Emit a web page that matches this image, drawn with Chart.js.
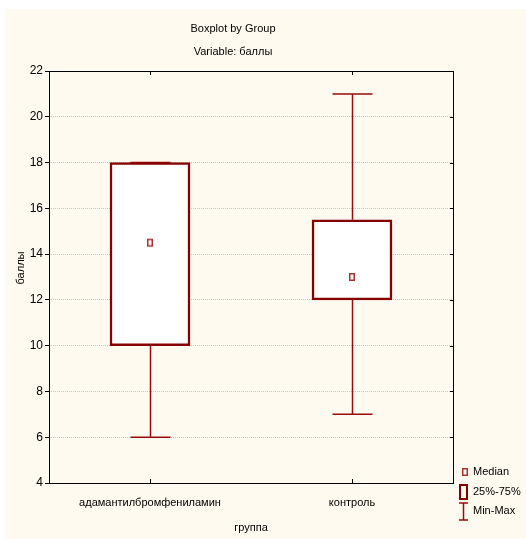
<!DOCTYPE html>
<html>
<head>
<meta charset="utf-8">
<script src="https://cdn.jsdelivr.net/npm/chart.js@4"></script>
<style>
  html, body { margin: 0; padding: 0; background: #fff; }
  canvas { display: block; }
</style>
</head>
<body>
<canvas id="boxchart" width="526" height="539"></canvas>
<script>
// data
const groups = ['адамантилбромфениламин', 'контроль'];
const mins = [6, 7];
const q1s = [10, 12];
const medians = [14.5, 13];
const q3s = [18, 15.5];
const maxs = [18, 21];
const yMin = 4, yMax = 22, yStep = 2;
const legendLabels = ['Median', '25%-75%', 'Min-Max'];

const boxRed = '#870000';
const whiskerRed = '#9a0a0a';
const medianRed = '#b03030';
const cream = '#fefaef';
const fontFamily = '"Liberation Sans", Arial, sans-serif';

Chart.defaults.font.family = fontFamily;
Chart.defaults.color = '#000';

// a small upright rectangle for the median marker
const medianMark = document.createElement('canvas');
medianMark.width = 8;
medianMark.height = 10;
(function () {
  const c = medianMark.getContext('2d');
  c.fillStyle = '#fff';
  c.fillRect(1, 1, 6, 8);
  c.strokeStyle = medianRed;
  c.lineWidth = 1.5;
  c.strokeRect(1.75, 1.75, 4.5, 6.5);
})();

// whiskers, frame, titles and legend
const boxExtras = {
  id: 'boxExtras',
  beforeDraw(chart) {
    const ctx = chart.ctx;
    ctx.save();
    ctx.fillStyle = '#fff';
    ctx.fillRect(0, 0, chart.width, chart.height);
    ctx.fillStyle = cream;
    ctx.fillRect(5, 9, chart.width - 5, chart.height - 9);
    ctx.restore();
  },
  beforeDatasetsDraw(chart) {
    const ctx = chart.ctx, x = chart.scales.x, y = chart.scales.y;
    ctx.save();
    ctx.strokeStyle = whiskerRed;
    ctx.lineWidth = 1.5;
    groups.forEach((g, i) => {
      const px = Math.round(x.getPixelForValue(i)) + 0.5;
      const yLo = y.getPixelForValue(mins[i]);
      const yQ1 = y.getPixelForValue(q1s[i]);
      const yQ3 = y.getPixelForValue(q3s[i]);
      const yHi = y.getPixelForValue(maxs[i]);
      ctx.beginPath();
      ctx.moveTo(px, yLo); ctx.lineTo(px, yQ1);
      ctx.moveTo(px, yQ3); ctx.lineTo(px, yHi);
      ctx.moveTo(px - 20, yLo); ctx.lineTo(px + 20, yLo);
      ctx.moveTo(px - 20, yHi); ctx.lineTo(px + 20, yHi);
      ctx.stroke();
    });
    ctx.restore();
  },
  afterDraw(chart) {
    const ctx = chart.ctx, a = chart.chartArea;
    const x = chart.scales.x, y = chart.scales.y;
    ctx.save();
    // plot frame
    ctx.strokeStyle = '#000';
    ctx.lineWidth = 1;
    ctx.strokeRect(a.left + 0.5, a.top + 0.5, a.right - a.left, a.bottom - a.top);
    // inner ticks: top/bottom at groups, right at y values
    ctx.beginPath();
    groups.forEach((g, i) => {
      const px = Math.round(x.getPixelForValue(i)) + 0.5;
      ctx.moveTo(px, a.top); ctx.lineTo(px, a.top + 4);
      ctx.moveTo(px, a.bottom); ctx.lineTo(px, a.bottom - 4);
    });
    y.ticks.forEach(t => {
      const py = Math.round(y.getPixelForValue(t.value)) + 0.5;
      ctx.moveTo(a.right, py); ctx.lineTo(a.right - 3, py);
    });
    ctx.stroke();

    // titles
    ctx.fillStyle = '#000';
    ctx.textAlign = 'center';
    ctx.textBaseline = 'middle';
    ctx.font = '11px ' + fontFamily;
    ctx.fillText('Boxplot by Group', 233, 29);
    ctx.fillText('Variable: баллы', 233, 52);
    ctx.fillText('группа', (a.left + a.right) / 2, 528);
    ctx.save();
    ctx.translate(21, 268);
    ctx.rotate(-Math.PI / 2);
    ctx.fillText('баллы', 0, 0);
    ctx.restore();

    // legend
    const lx = a.right + 9;
    ctx.textAlign = 'left';
    ctx.fillText(legendLabels[0], lx + 11, 472);
    ctx.fillText(legendLabels[1], lx + 11, 492);
    ctx.fillText(legendLabels[2], lx + 11, 511);
    ctx.drawImage(medianMark, lx - 1, 467);
    ctx.strokeStyle = boxRed;
    ctx.lineWidth = 2;
    ctx.strokeRect(lx - 2, 485, 7, 14);
    ctx.strokeStyle = whiskerRed;
    ctx.lineWidth = 1.5;
    ctx.beginPath();
    ctx.moveTo(lx - 3, 503); ctx.lineTo(lx + 6, 503);
    ctx.moveTo(lx + 1.5, 503); ctx.lineTo(lx + 1.5, 520);
    ctx.moveTo(lx - 3, 520); ctx.lineTo(lx + 6, 520);
    ctx.stroke();
    ctx.restore();
  }
};

const boxconfig = {
  type: 'bar',
  data: {
    labels: groups,
    datasets: [{
      type: 'line',
      label: legendLabels[0],
      data: medians,
      showLine: false,
      pointStyle: medianMark,
      order: 0
    }, {
      type: 'bar',
      label: legendLabels[1],
      data: groups.map((g, i) => [q1s[i], q3s[i]]),
      backgroundColor: '#fff',
      borderColor: boxRed,
      borderWidth: 2.5,
      borderSkipped: false,
      barThickness: 80,
      order: 1
    }]
  },
  options: {
    responsive: false,
    animation: false,
    layout: { padding: { left: 5, top: 71, right: 73, bottom: 0 } },
    plugins: {
      legend: { display: false },
      tooltip: { enabled: false },
      title: { display: false }
    },
    scales: {
      x: {
        grid: { display: false },
        border: { display: false },
        ticks: { font: { size: 11 }, color: '#000', padding: 5 },
        afterFit(s) { s.height = 56; }
      },
      y: {
        min: yMin,
        max: yMax,
        ticks: { stepSize: yStep, font: { size: 12 }, color: '#000', padding: 2 },
        grid: {
          color: c => (c.tick && (c.tick.value === yMin || c.tick.value === yMax)) ? 'rgba(0,0,0,0)' : '#c4c4c4',
          tickColor: '#000',
          tickLength: 4,
          tickBorderDash: []
        },
        border: { display: false, dash: [1, 1] },
        afterFit(s) { s.width = 44; }
      }
    }
  },
  plugins: [boxExtras]
};

const boxchart = new Chart(document.getElementById('boxchart'), boxconfig);
</script>
</body>
</html>
